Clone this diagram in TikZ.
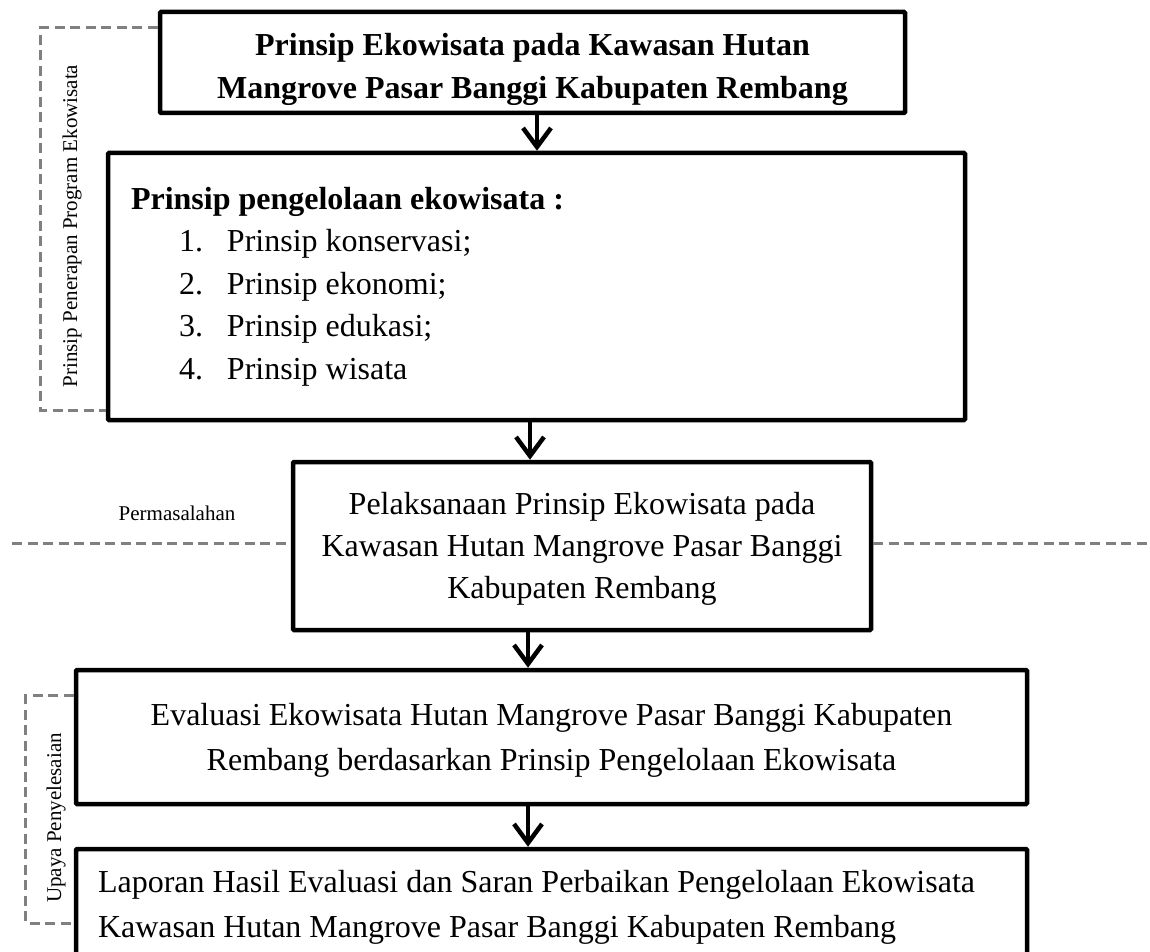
\documentclass[tikz,border=0pt]{standalone}
\usepackage{fontspec}
\setmainfont{Liberation Serif}
\usepackage{tikz}
\usetikzlibrary{arrows.meta}
\definecolor{dashgray}{RGB}{128,128,128}

\tikzset{
  box/.style={draw, line width=4.5pt, rounded corners=1pt, align=center, inner sep=0pt},
  flow/.style={line width=4.5pt},
  bracket/.style={draw=dashgray, line width=3pt, dash pattern=on 10pt off 5.5pt},
  note/.style={font=\fontsize{21}{25}\selectfont, inner sep=0pt},
}

\begin{document}
\begin{tikzpicture}[x=1pt, y=-1pt, >={Straight Barb[length=19pt,width=28pt]}]
\useasboundingbox (0,0) rectangle (1150,952);

\node[box, minimum width=745pt, minimum height=101pt, font=\fontsize{32}{43}\selectfont\bfseries] (prinsip) at (532.5,62.5) {\rule{0pt}{36pt}Prinsip Ekowisata pada Kawasan Hutan\\Mangrove Pasar Banggi Kabupaten Rembang};

\node[box, align=left, text width=811pt, inner xsep=23pt, minimum height=267pt, font=\fontsize{32}{42.5}\selectfont] (pengelolaan) at (536.5,286.5) {\spaceskip=0pt\xspaceskip=0pt\textbf{Prinsip pengelolaan ekowisata :}\\
\hspace*{48pt}\makebox[48pt][l]{1.}Prinsip konservasi;\\
\hspace*{48pt}\makebox[48pt][l]{2.}Prinsip ekonomi;\\
\hspace*{48pt}\makebox[48pt][l]{3.}Prinsip edukasi;\\
\hspace*{48pt}\makebox[48pt][l]{4.}Prinsip wisata};

\node[box, minimum width=578pt, minimum height=168pt, font=\fontsize{32}{42}\selectfont] (pelaksanaan) at (582,546) {\rule{0pt}{27pt}Pelaksanaan Prinsip Ekowisata pada\\Kawasan Hutan Mangrove Pasar Banggi\\Kabupaten Rembang};

\node[box, minimum width=951pt, minimum height=134pt, font=\fontsize{32}{45}\selectfont] (evaluasi) at (551.5,737) {\rule{0pt}{29pt}Evaluasi Ekowisata Hutan Mangrove Pasar Banggi Kabupaten\\Rembang berdasarkan Prinsip Pengelolaan Ekowisata};

\node[box, align=left, text width=907pt, inner xsep=22pt, minimum height=106pt, font=\fontsize{32}{45}\selectfont] (laporan) at (551.5,902) {\spaceskip=0pt\xspaceskip=0pt\rule{0pt}{32pt}Laporan Hasil Evaluasi dan Saran Perbaikan Pengelolaan Ekowisata\\Kawasan Hutan Mangrove Pasar Banggi Kabupaten Rembang};

% arrows
\coordinate (a1) at (537,0);
\coordinate (a2) at (530,0);
\coordinate (a3) at (528,0);
\draw[->, flow] (prinsip.south -| a1) -- (pengelolaan.north -| a1);
\draw[->, flow] (pengelolaan.south -| a2) -- (pelaksanaan.north -| a2);
\draw[->, flow] (pelaksanaan.south -| a3) -- (evaluasi.north -| a3);
\draw[->, flow] (evaluasi.south -| a3) -- (laporan.north -| a3);

% dashed brackets
\draw[bracket] ([yshift=-18pt]prinsip.north west) -- ++(-117,0) |- ([yshift=12pt]pengelolaan.south west);
\node[note, rotate=90] (penerapan) at (72,226) {Prinsip Penerapan Program Ekowisata};

\draw[bracket] ([yshift=-28pt]evaluasi.north west) -- ++(-48,0) |- ([yshift=-21pt]laporan.west);
\node[note, rotate=90] (upaya) at (56,818) {Upaya Penyelesaian};

\coordinate (mleft) at (12,543);
\coordinate (mright) at (1150,543);
\draw[bracket] (mleft) -- (pelaksanaan.west |- mleft);
\draw[bracket] (pelaksanaan.east |- mright) -- (mright);
\node[note] (permasalahan) at (177,513) {Permasalahan};

\end{tikzpicture}
\end{document}
